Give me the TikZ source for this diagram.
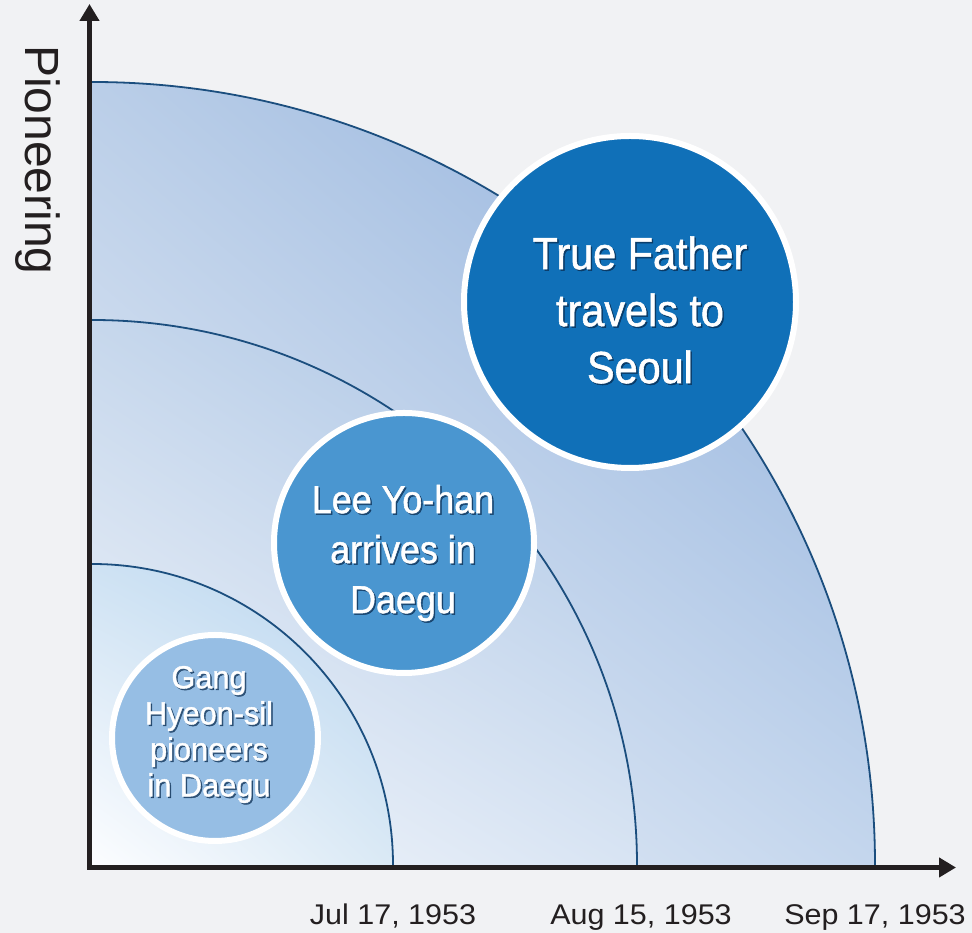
\documentclass[tikz,border=0pt]{standalone}
\usepackage{fontspec}
\setmainfont{Liberation Sans}
\newfontfamily\circlefont[FakeStretch=0.92,FakeBold=1.2]{Liberation Sans}
\newfontfamily\smallcirclefont[FakeStretch=0.96,FakeBold=1.2]{Liberation Sans}
\newfontfamily\datefont[FakeStretch=1.07]{Liberation Sans}
\usetikzlibrary{arrows.meta,shadings}

\definecolor{bg}{HTML}{F1F2F4}
\definecolor{axiscol}{HTML}{231F20}
\definecolor{arccol}{HTML}{1B4E7E}
\definecolor{bigblue}{HTML}{1070B8}
\definecolor{midblue}{HTML}{4A96D0}
\definecolor{smallblue}{HTML}{96BEE4}
\definecolor{shadowcol}{HTML}{0A2C50}
% corner colours of the three quarter disks
\definecolor{outUR}{RGB}{138,172,218}
\definecolor{outUL}{RGB}{186,206,232}
\definecolor{outLR}{RGB}{196,214,237}
\definecolor{outLL}{RGB}{240,244,250}
\definecolor{midUR}{RGB}{166,193,227}
\definecolor{midUL}{RGB}{198,215,236}
\definecolor{midLR}{RGB}{216,228,243}
\definecolor{midLL}{RGB}{246,248,252}
\definecolor{inUR}{RGB}{184,213,239}
\definecolor{inUL}{RGB}{206,226,243}
\definecolor{inLR}{RGB}{218,233,245}
\definecolor{inLL}{RGB}{252,253,255}

\tikzset{
  axisline/.style={draw=axiscol, line width=5pt, -{Triangle[width=19pt,length=17pt]}},
  arcline/.style={draw=arccol, line width=1.8pt},
  bubble/.style={circle, draw=white, line width=6pt, inner sep=0pt},
  bubbletext/.style={text=white, align=center, inner sep=0pt},
  bubbleshadow/.style={text=shadowcol, text opacity=0.7, align=center, inner sep=0pt},
  datelabel/.style={font=\datefont\fontsize{28.5}{30}\selectfont, text=axiscol, anchor=base, inner sep=0pt},
}

\begin{document}
\begin{tikzpicture}[x=1pt,y=1pt]
  % page
  \fill[bg] (0,0) rectangle (972,933);
  \useasboundingbox (0,0) rectangle (972,933);

  \coordinate (C) at (92,68);

  % quarter disks, outermost first
  \shade[upper right=outUR, upper left=outUL, lower right=outLR, lower left=outLL]
    (C) -- ++(783,0) arc[start angle=0,end angle=90,radius=783] -- cycle;
  \draw[arcline] (C) ++(783,0) coordinate (r3) arc[start angle=0,end angle=90,radius=783];

  \shade[upper right=midUR, upper left=midUL, lower right=midLR, lower left=midLL]
    (C) -- ++(545,0) arc[start angle=0,end angle=90,radius=545] -- cycle;
  \draw[arcline] (C) ++(545,0) coordinate (r2) arc[start angle=0,end angle=90,radius=545];

  \shade[upper right=inUR, upper left=inUL, lower right=inLR, lower left=inLL]
    (C) -- ++(301,0) arc[start angle=0,end angle=90,radius=301] -- cycle;
  \draw[arcline] (C) ++(301,0) coordinate (r1) arc[start angle=0,end angle=90,radius=301];

  % axes
  \coordinate (O) at (89.5,65.5);
  \coordinate (ytip) at (89.5,929);
  \coordinate (xtip) at (956,65.5);
  \draw[axisline] ([yshift=-2.5pt]O) -- (ytip);
  \draw[axisline] ([xshift=-2.5pt]O) -- (xtip);

  \node[rotate=-90, font=\fontsize{48}{50}\selectfont, text=axiscol, inner sep=0pt] (ylabel) at (37.5,773) {Pioneering};

  % dates under the arc ends
  \node[datelabel] (d1) at (r1 |- 0,8) {Jul 17, 1953};
  \node[datelabel] (d2) at ([xshift=4pt]r2 |- 0,8) {Aug 15, 1953};
  \node[datelabel] (d3) at (r3 |- 0,8) {Sep 17, 1953};

  % bubbles
  \node[bubble, fill=bigblue, minimum size=332pt] (father) at (630,631) {};
  \node[bubble, fill=midblue, minimum size=260pt] (yohan) at (404,390) {};
  \node[bubble, fill=smallblue, minimum size=206pt] (gang) at (215,195) {};

  \node[bubbleshadow, font=\circlefont\fontsize{45}{57}\selectfont] at (641.5,621.5) {True Father\\travels to\\Seoul};
  \node[bubbletext, font=\circlefont\fontsize{45}{57}\selectfont] (fathertxt) at (640,623) {True Father\\travels to\\Seoul};

  \node[bubbleshadow, font=\circlefont\fontsize{39}{50}\selectfont] at (404.5,378.5) {Lee Yo-han\\arrives in\\Daegu};
  \node[bubbletext, font=\circlefont\fontsize{39}{50}\selectfont] (yohantxt) at (403,380) {Lee Yo-han\\arrives in\\Daegu};

  \node[bubbleshadow, font=\smallcirclefont\fontsize{32}{36}\selectfont] at (210.5,197) {Gang\\Hyeon-sil\\pioneers\\in Daegu};
  \node[bubbletext, font=\smallcirclefont\fontsize{32}{36}\selectfont] (gangtxt) at (209,198.5) {Gang\\Hyeon-sil\\pioneers\\in Daegu};
\end{tikzpicture}
\end{document}
